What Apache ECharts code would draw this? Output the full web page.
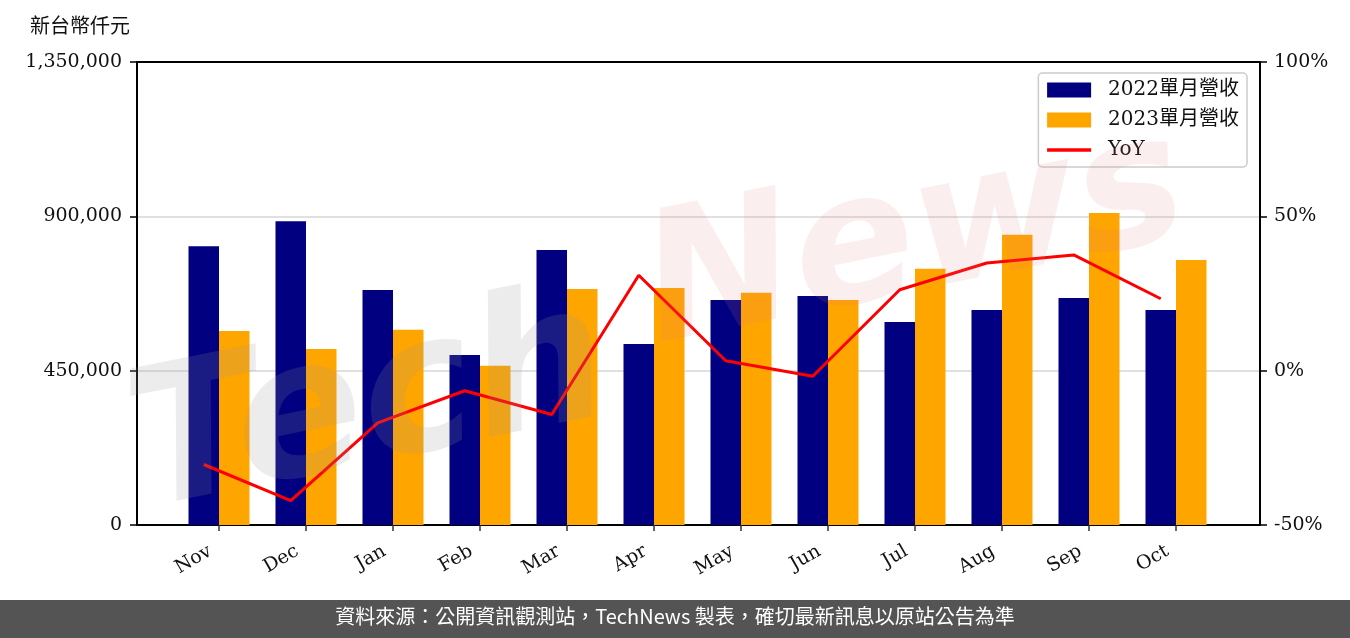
<!DOCTYPE html>
<html><head><meta charset="utf-8">
<script src="https://cdn.jsdelivr.net/npm/echarts@6/dist/echarts.min.js"></script>
<style>html,body{margin:0;padding:0;background:#fff}#c{width:1350px;height:638px}</style>
</head><body><div id="c"></div>
<script>
const categories = ['Nov','Dec','Jan','Feb','Mar','Apr','May','Jun','Jul','Aug','Sep','Oct'];
const rev2022 = [813000, 886000, 685000, 496000, 802000, 528000, 656000, 668000, 592000, 627000, 662000, 627000];
const rev2023 = [566000, 513000, 569000, 464000, 688000, 691000, 677000, 656000, 747000, 846000, 910000, 773000];
const yoy = [-30.4, -42.1, -16.9, -6.5, -14.2, 30.9, 3.2, -1.8, 26.2, 34.9, 37.5, 23.3];
const leftTicks = [0, 450000, 900000, 1350000];
const rightTicks = [-50, 0, 50, 100];
const names = ['2022單月營收', '2023單月營收', 'YoY'];

const SERIF = '"DejaVu Serif", "Noto Sans CJK TC", serif';
const FS = 19;
const chart = echarts.init(document.getElementById('c'));
const fmt = v => v.toLocaleString('en-US');
const frameAxis = pos => ({ type: 'value', gridIndex: 0, min: 0, max: 1, position: pos,
  axisLine: { show: true, onZero: false, lineStyle: { color: '#000', width: 2 } },
  axisTick: { show: false }, axisLabel: { show: false }, splitLine: { show: false } });
chart.setOption({
  animation: false,
  textStyle: { fontFamily: SERIF },
  grid: [
    { left: 137, right: 90, top: 62, bottom: 113 },
    { left: 175.5, right: 130.5, top: 62, bottom: 113 },
    { left: 160.25, right: 145.75, top: 62, bottom: 113 }
  ],
  title: {
    text: '新台幣仟元', left: 30, top: 18, padding: 0,
    textStyle: { fontFamily: SERIF, fontSize: 20, fontWeight: 'normal', color: '#111' }
  },
  legend: {
    data: [
      { name: names[0], icon: 'rect' },
      { name: names[1], icon: 'rect' },
      { name: names[2], itemStyle: { opacity: 0 }, lineStyle: { width: 3.5, color: '#ff0000' } }
    ],
    orient: 'vertical', right: 103, top: 73,
    borderColor: '#cccccc', borderWidth: 1.5, borderRadius: 4,
    padding: [7, 8, 7, 7], itemGap: 10, itemWidth: 44, itemHeight: 15,
    backgroundColor: 'rgba(255,255,255,0.8)',
    textStyle: { fontFamily: SERIF, fontSize: 20, color: '#111', padding: [0, 0, 0, 12] }
  },
  xAxis: [
    frameAxis('bottom'),
    frameAxis('top'),
    { type: 'category', gridIndex: 1, data: categories, boundaryGap: true,
      axisLine: { show: false },
      axisTick: { show: true, alignWithLabel: true, length: 6, lineStyle: { color: '#333', width: 1.5 } },
      axisLabel: { rotate: 30, margin: 20, padding: [0, 10, 0, 0], fontFamily: SERIF, fontSize: FS, color: '#111' } },
    { type: 'category', gridIndex: 2, data: categories, boundaryGap: true, show: false }
  ],
  yAxis: [
    { type: 'value', gridIndex: 0, min: leftTicks[0], max: leftTicks[3], interval: leftTicks[1] - leftTicks[0],
      axisLine: { show: true, onZero: false, lineStyle: { color: '#000', width: 2 } },
      axisTick: { show: true, length: 7, lineStyle: { color: '#000', width: 1.5 } },
      axisLabel: { formatter: fmt, margin: 15, fontFamily: SERIF, fontSize: FS, color: '#111' },
      splitLine: { show: true, lineStyle: { color: '#d6d6d6', width: 1.5 } } },
    { type: 'value', gridIndex: 0, min: rightTicks[0], max: rightTicks[3], interval: rightTicks[1] - rightTicks[0], position: 'right',
      axisLine: { show: true, onZero: false, lineStyle: { color: '#000', width: 2 } },
      axisTick: { show: true, length: 7, lineStyle: { color: '#000', width: 1.5 } },
      axisLabel: { formatter: v => v + '%', margin: 14, fontFamily: SERIF, fontSize: FS, color: '#111' },
      splitLine: { show: false } },
    { type: 'value', gridIndex: 1, min: leftTicks[0], max: leftTicks[3], show: false, splitLine: { show: false } },
    { type: 'value', gridIndex: 2, min: rightTicks[0], max: rightTicks[3], show: false, splitLine: { show: false } }
  ],
  series: [
    { name: names[0], type: 'bar', xAxisIndex: 2, yAxisIndex: 2, data: rev2022,
      barWidth: 30.5, barGap: '0%', itemStyle: { color: '#000080' } },
    { name: names[1], type: 'bar', xAxisIndex: 2, yAxisIndex: 2, data: rev2023,
      barWidth: 30.5, barGap: '0%', itemStyle: { color: '#ffa500' } },
    { name: names[2], type: 'line', xAxisIndex: 3, yAxisIndex: 3, data: yoy,
      symbol: 'none', lineStyle: { color: '#ff0000', width: 3 }, itemStyle: { color: '#ff0000' }, z: 5 }
  ],
  graphic: [
    { type: 'text', left: 115, top: 270, rotation: 0.2, z: 100, silent: true,
      style: { text: 'Tech', font: 'italic bold 190px "DejaVu Sans"', fill: 'rgba(150,150,150,0.18)' } },
    { type: 'text', left: 630, top: 100, rotation: 0.2, z: 100, silent: true,
      style: { text: 'News', font: 'italic bold 180px "DejaVu Sans"', fill: 'rgba(225,120,120,0.13)' } },
    { type: 'rect', left: 0, top: 600, z: 50, shape: { width: 1350, height: 38 }, style: { fill: '#545454' } },
    { type: 'text', left: 'center', top: 606, z: 51,
      style: { text: '資料來源：公開資訊觀測站，TechNews 製表，確切最新訊息以原站公告為準',
        font: '20px "Noto Sans CJK TC"', fill: '#ffffff' } }
  ]
});
</script></body></html>
